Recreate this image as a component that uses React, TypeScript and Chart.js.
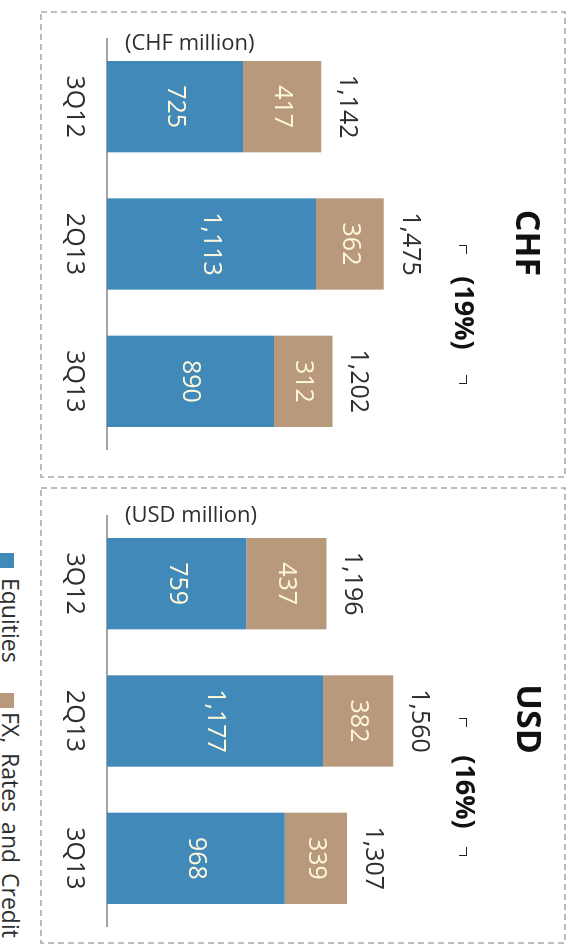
import React, { useEffect, useRef } from "react";
import { Chart, registerables } from "chart.js";

Chart.register(...registerables);

const categories = ["3Q12", "2Q13", "3Q13"];
const seriesNames = ["Equities", "FX, Rates and Credit"];
const chfEquities = [725, 1113, 890];
const chfFx = [417, 362, 312];
const chfTotals = [1142, 1475, 1202];
const usdEquities = [759, 1177, 968];
const usdFx = [437, 382, 339];
const usdTotals = [1196, 1560, 1307];
const panelTitles = ["CHF", "USD"];
const changeLabels = ["(19%)", "(16%)"];
const unitLabels = ["(CHF million)", "(USD million)"];

const BLUE = "#4189b9";
const TAN = "#b9997b";
const INNER_TEXT = "#fdf7dc";
const DARK = "#2e2e2e";
const FONT = "'Open Sans', 'Noto Sans', sans-serif";

const fmt = (v: number) => v.toLocaleString("en-US");

function makeLabelPlugin(totals: number[]) {
  return {
    id: "barLabels",
    afterDatasetsDraw(chart: any) {
      const ctx = chart.ctx;
      ctx.save();
      ctx.textAlign = "center";
      ctx.textBaseline = "middle";
      ctx.font = `25px ${FONT}`;
      chart.data.datasets.forEach((ds: any, di: number) => {
        const meta = chart.getDatasetMeta(di);
        meta.data.forEach((bar: any, i: number) => {
          ctx.fillStyle = INNER_TEXT;
          ctx.fillText(fmt(ds.data[i]), bar.x, (bar.y + bar.base) / 2);
        });
      });
      const topMeta = chart.getDatasetMeta(chart.data.datasets.length - 1);
      topMeta.data.forEach((bar: any, i: number) => {
        ctx.fillStyle = DARK;
        ctx.fillText(fmt(totals[i]), bar.x, bar.y - 26);
      });
      ctx.restore();
    },
  };
}

function Panel(props: { equities: number[]; fx: number[]; totals: number[]; max: number; left: number }) {
  const ref = useRef<HTMLCanvasElement | null>(null);
  useEffect(() => {
    if (!ref.current) return;
    const chart = new Chart(ref.current, {
      type: "bar",
      data: {
        labels: categories,
        datasets: [
          { label: seriesNames[0], data: props.equities, backgroundColor: BLUE, borderWidth: 0 },
          { label: seriesNames[1], data: props.fx, backgroundColor: TAN, borderWidth: 0 },
        ],
      },
      options: {
        responsive: false,
        animation: false,
        devicePixelRatio: 1,
        layout: { padding: 0 },
        plugins: { legend: { display: false }, tooltip: { enabled: false }, title: { display: false } },
        datasets: { bar: { categoryPercentage: 1, barPercentage: 0.665 } },
        scales: {
          x: {
            stacked: true,
            grid: { display: false, drawTicks: false },
            border: { display: true, color: "#a3a3a3", width: 2 },
            ticks: { color: DARK, font: { size: 25, family: FONT }, padding: 18 },
          },
          y: { stacked: true, display: false, min: 0, max: props.max },
        },
      } as any,
      plugins: [makeLabelPlugin(props.totals)],
    });
    return () => chart.destroy();
  }, []);
  return (
    <canvas
      ref={ref}
      width={412}
      height={532}
      style={{ position: "absolute", left: props.left, top: 0, width: 412, height: 532 }}
    />
  );
}

function Bracket(props: { x1: number; x2: number; y: number }) {
  const line = "1.6px solid #222";
  return (
    <>
      <div style={{ position: "absolute", left: props.x1, top: props.y, width: 8, height: 7, borderTop: line, borderLeft: line }} />
      <div style={{ position: "absolute", left: props.x2 - 8, top: props.y, width: 8, height: 7, borderTop: line, borderRight: line }} />
    </>
  );
}

const centered = (x: number, y: number, extra: React.CSSProperties): React.CSSProperties => ({
  position: "absolute",
  left: x,
  top: y,
  transform: "translate(-50%, -50%)",
  lineHeight: 1,
  whiteSpace: "nowrap",
  fontFamily: FONT,
  ...extra,
});

export default function App() {
  return (
    <div style={{ position: "absolute", left: 0, top: 0, width: 573, height: 945, overflow: "hidden", background: "#fff" }}>
      <svg width={573} height={945} style={{ position: "absolute", left: 0, top: 0 }}>
        <rect x={41} y={12} width={524} height={465} fill="none" stroke="#a9a9a9" strokeWidth={1.6} strokeDasharray="6 4" />
        <rect x={41} y={488} width={524} height={455} fill="none" stroke="#a9a9a9" strokeWidth={1.6} strokeDasharray="6 4" />
      </svg>
      <div
        style={{
          position: "absolute",
          left: 0,
          top: 0,
          width: 945,
          height: 573,
          transformOrigin: "0 0",
          transform: "translate(573px, 0) rotate(90deg)",
          fontFamily: FONT,
        }}
      >
        <Panel equities={chfEquities} fx={chfFx} totals={chfTotals} max={2483} left={38} />
        <Panel equities={usdEquities} fx={usdFx} totals={usdTotals} max={2538} left={515} />

        <div style={centered(243, 44, { fontSize: 34, fontWeight: 700, color: "#111" })}>{panelTitles[0]}</div>
        <div style={centered(719, 43, { fontSize: 34, fontWeight: 700, color: "#111" })}>{panelTitles[1]}</div>

        <div style={centered(313, 107, { fontSize: 27, fontWeight: 700, color: "#111" })}>{changeLabels[0]}</div>
        <Bracket x1={245} x2={383} y={106} />
        <div style={centered(792, 106, { fontSize: 27, fontWeight: 700, color: "#111" })}>{changeLabels[1]}</div>
        <Bracket x1={718} x2={855} y={106} />

        <div style={{ position: "absolute", left: 553, top: 559, width: 15, height: 15, background: BLUE }} />
        <div style={{ position: "absolute", left: 578, top: 551, fontSize: 23, lineHeight: 1, color: DARK, whiteSpace: "nowrap" }}>{seriesNames[0]}</div>
        <div style={{ position: "absolute", left: 693, top: 559, width: 15, height: 15, background: TAN }} />
        <div style={{ position: "absolute", left: 712, top: 551, fontSize: 23, lineHeight: 1, color: DARK, whiteSpace: "nowrap", wordSpacing: 4 }}>{seriesNames[1]}</div>
      </div>
      <div style={{ position: "absolute", left: 125, top: 41, transform: "translateY(-50%)", fontFamily: FONT, fontSize: 22, lineHeight: 1, color: DARK, whiteSpace: "nowrap" }}>{unitLabels[0]}</div>
      <div style={{ position: "absolute", left: 125, top: 513, transform: "translateY(-50%)", fontFamily: FONT, fontSize: 22, lineHeight: 1, color: DARK, whiteSpace: "nowrap" }}>{unitLabels[1]}</div>
    </div>
  );
}
